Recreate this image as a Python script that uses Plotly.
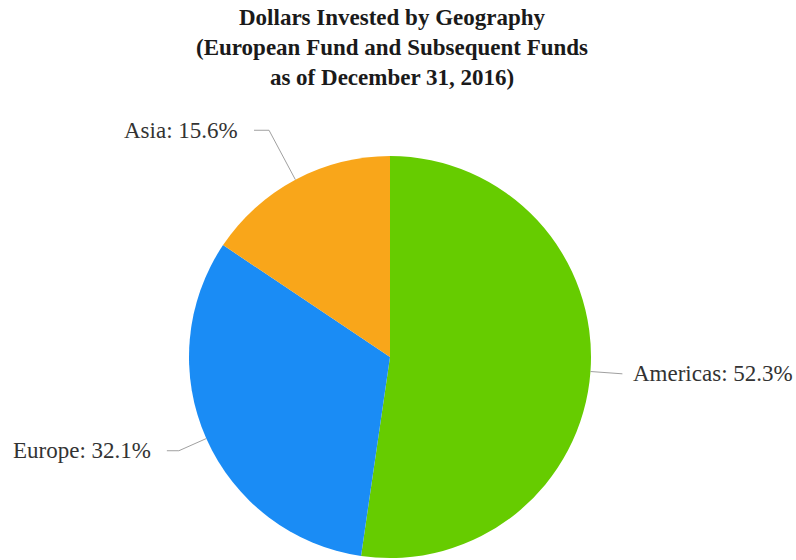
import math
import plotly.graph_objects as go

# Data
categories = ["Americas", "Europe", "Asia"]
shares = [52.3, 32.1, 15.6]
colors = ["#66CC00", "#1A8CF5", "#F9A61A"]

title_lines = [
    "Dollars Invested by Geography",
    "(European Fund and Subsequent Funds",
    "as of December 31, 2016)",
]

# Layout / style parameters (pixels)
W, H = 796, 560
CX, CY, R = 390, 357, 201
label_dist = [32, 30, 56]   # radial distance of connector elbow beyond the edge
hseg = [0, 12, 15]          # horizontal connector segment after elbow
gap = [9, 14, 14]           # gap between connector end and text
FONT = "Liberation Serif, Times New Roman, serif"


def px(x):
    return x / W


def py(y):
    return 1 - y / H


fig = go.Figure()
fig.add_trace(go.Pie(
    labels=categories,
    values=shares,
    marker=dict(colors=colors, line=dict(width=0)),
    sort=False,
    direction="clockwise",
    rotation=0,
    textinfo="none",
    hoverinfo="label+percent",
    showlegend=False,
    domain=dict(x=[px(CX - 260), px(CX + 260)], y=[py(CY + R), py(CY - R)]),
))

total = sum(shares)
cum = 0.0
shapes = []
annotations = []
for i, (cat, val) in enumerate(zip(categories, shares)):
    mid = (cum + val / 2) / total * 2 * math.pi
    cum += val
    s, c = math.sin(mid), math.cos(mid)
    ex, ey = CX + R * s, CY - R * c
    rr = R + label_dist[i]
    bx, by = CX + rr * s, CY - rr * c
    side = 1 if s >= 0 else -1
    hx = bx + side * hseg[i]
    path = f"M {px(ex)},{py(ey)} L {px(bx)},{py(by)} L {px(hx)},{py(by)}"
    shapes.append(dict(type="path", xref="paper", yref="paper", path=path,
                       line=dict(color="#A0A0A0", width=1)))
    annotations.append(dict(
        x=px(hx + side * gap[i]), y=py(by), xref="paper", yref="paper",
        text=f"{cat}: {val}%", showarrow=False,
        xanchor="left" if side > 0 else "right", yanchor="middle",
        font=dict(family=FONT, size=23, color="#333333"),
    ))

annotations.append(dict(
    x=px(CX + 2), y=py(3), xref="paper", yref="paper",
    text="<b>" + "<br>".join(title_lines) + "</b>", showarrow=False,
    xanchor="center", yanchor="top", align="center",
    font=dict(family=FONT, size=23, color="#1a1a1a"),
))

fig.update_layout(
    width=W, height=H,
    margin=dict(l=0, r=0, t=0, b=0),
    paper_bgcolor="white", plot_bgcolor="white",
    shapes=shapes, annotations=annotations,
)

fig.write_html(
    "out.html",
    config={"displayModeBar": False},
    post_script="document.body.style.margin='0';document.body.style.overflow='hidden';",
)
